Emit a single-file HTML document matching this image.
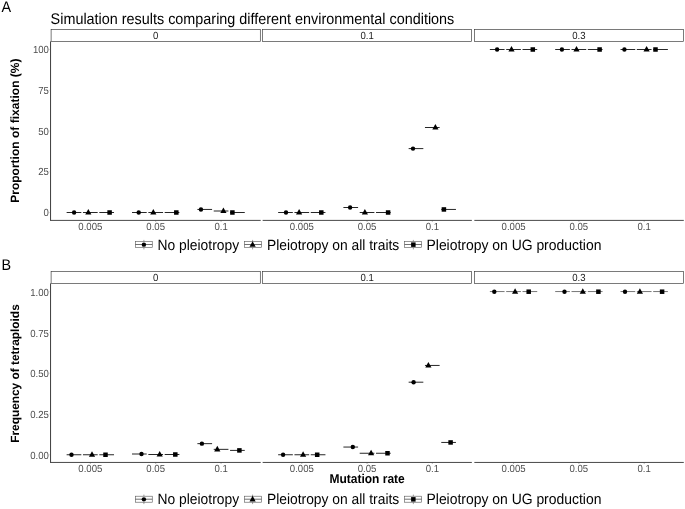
<!DOCTYPE html><html><head><meta charset="utf-8"><title>Simulation results</title><style>html,body{margin:0;padding:0;background:#fff}svg{display:block;font-family:"Liberation Sans", Arial, Helvetica, sans-serif;text-rendering:geometricPrecision}</style></head><body>
<svg width="685" height="509" viewBox="0 0 685 509">
<rect width="685" height="509" fill="#fff"/>
<text transform="translate(50.60,23.60) scale(1,1.07)" font-size="14.4" fill="#000">Simulation results comparing different environmental conditions</text>
<rect x="51.1" y="29.5" width="209.20" height="11.90" fill="#fff" stroke="#333" stroke-width="0.65"/>
<text transform="translate(155.70,38.75) scale(1,1.07)" text-anchor="middle" font-size="9.6" fill="#1a1a1a">0</text>
<line x1="50.6" y1="220.4" x2="260.7" y2="220.4" stroke="#333" stroke-width="0.9"/>
<text transform="translate(90.33,229.50) scale(1,1.07)" text-anchor="middle" font-size="9.6" fill="#4d4d4d">0.005</text>
<line x1="90.33" y1="220.80" x2="90.33" y2="221.50" stroke="#333" stroke-width="0.6"/>
<line x1="66.63" y1="212.50" x2="81.34" y2="212.50" stroke="#000" stroke-width="0.85"/>
<circle cx="74.10" cy="212.50" r="2.2" fill="#000"/>
<line x1="82.97" y1="212.50" x2="97.68" y2="212.50" stroke="#000" stroke-width="0.85"/>
<path d="M88.30 209.00 L91.40 214.60 L85.20 214.60 Z" fill="#000"/>
<line x1="99.31" y1="212.50" x2="114.02" y2="212.50" stroke="#000" stroke-width="0.85"/>
<rect x="107.35" y="210.25" width="4.5" height="4.5" fill="#000"/>
<text transform="translate(155.70,229.50) scale(1,1.07)" text-anchor="middle" font-size="9.6" fill="#4d4d4d">0.05</text>
<line x1="155.70" y1="220.80" x2="155.70" y2="221.50" stroke="#333" stroke-width="0.6"/>
<line x1="132.00" y1="212.50" x2="146.71" y2="212.50" stroke="#000" stroke-width="0.85"/>
<circle cx="138.70" cy="212.50" r="2.2" fill="#000"/>
<line x1="148.35" y1="212.50" x2="163.05" y2="212.50" stroke="#000" stroke-width="0.85"/>
<path d="M153.30 209.00 L156.40 214.60 L150.20 214.60 Z" fill="#000"/>
<line x1="164.69" y1="212.50" x2="179.40" y2="212.50" stroke="#000" stroke-width="0.85"/>
<rect x="174.05" y="210.25" width="4.5" height="4.5" fill="#000"/>
<text transform="translate(221.07,229.50) scale(1,1.07)" text-anchor="middle" font-size="9.6" fill="#4d4d4d">0.1</text>
<line x1="221.07" y1="220.80" x2="221.07" y2="221.50" stroke="#333" stroke-width="0.6"/>
<line x1="197.38" y1="209.45" x2="212.09" y2="209.45" stroke="#000" stroke-width="0.85"/>
<circle cx="200.95" cy="209.45" r="2.2" fill="#000"/>
<line x1="213.72" y1="211.00" x2="228.43" y2="211.00" stroke="#000" stroke-width="0.85"/>
<path d="M223.40 207.50 L226.50 213.10 L220.30 213.10 Z" fill="#000"/>
<line x1="230.06" y1="212.50" x2="244.77" y2="212.50" stroke="#000" stroke-width="0.85"/>
<rect x="230.15" y="210.25" width="4.5" height="4.5" fill="#000"/>
<rect x="262.65" y="29.5" width="208.80" height="11.90" fill="#fff" stroke="#333" stroke-width="0.65"/>
<text transform="translate(367.05,38.75) scale(1,1.07)" text-anchor="middle" font-size="9.6" fill="#1a1a1a">0.1</text>
<line x1="262.65" y1="220.4" x2="471.84999999999997" y2="220.4" stroke="#333" stroke-width="0.9"/>
<text transform="translate(301.80,229.50) scale(1,1.07)" text-anchor="middle" font-size="9.6" fill="#4d4d4d">0.005</text>
<line x1="301.80" y1="220.80" x2="301.80" y2="221.50" stroke="#333" stroke-width="0.6"/>
<line x1="278.15" y1="212.50" x2="292.83" y2="212.50" stroke="#000" stroke-width="0.85"/>
<circle cx="286.00" cy="212.50" r="2.2" fill="#000"/>
<line x1="294.46" y1="212.50" x2="309.14" y2="212.50" stroke="#000" stroke-width="0.85"/>
<path d="M299.10 209.00 L302.20 214.60 L296.00 214.60 Z" fill="#000"/>
<line x1="310.77" y1="212.50" x2="325.45" y2="212.50" stroke="#000" stroke-width="0.85"/>
<rect x="319.05" y="210.25" width="4.5" height="4.5" fill="#000"/>
<text transform="translate(367.05,229.50) scale(1,1.07)" text-anchor="middle" font-size="9.6" fill="#4d4d4d">0.05</text>
<line x1="367.05" y1="220.80" x2="367.05" y2="221.50" stroke="#333" stroke-width="0.6"/>
<line x1="343.40" y1="207.50" x2="358.08" y2="207.50" stroke="#000" stroke-width="0.85"/>
<circle cx="350.10" cy="207.50" r="2.2" fill="#000"/>
<line x1="359.71" y1="212.50" x2="374.39" y2="212.50" stroke="#000" stroke-width="0.85"/>
<path d="M364.90 209.00 L368.00 214.60 L361.80 214.60 Z" fill="#000"/>
<line x1="376.02" y1="212.50" x2="390.70" y2="212.50" stroke="#000" stroke-width="0.85"/>
<rect x="385.85" y="210.25" width="4.5" height="4.5" fill="#000"/>
<text transform="translate(432.30,229.50) scale(1,1.07)" text-anchor="middle" font-size="9.6" fill="#4d4d4d">0.1</text>
<line x1="432.30" y1="220.80" x2="432.30" y2="221.50" stroke="#333" stroke-width="0.6"/>
<line x1="408.65" y1="148.60" x2="423.33" y2="148.60" stroke="#000" stroke-width="0.85"/>
<circle cx="413.00" cy="148.60" r="2.2" fill="#000"/>
<line x1="424.96" y1="127.50" x2="439.64" y2="127.50" stroke="#000" stroke-width="0.85"/>
<path d="M435.40 124.00 L438.50 129.60 L432.30 129.60 Z" fill="#000"/>
<line x1="441.27" y1="209.45" x2="455.95" y2="209.45" stroke="#000" stroke-width="0.85"/>
<rect x="441.65" y="207.20" width="4.5" height="4.5" fill="#000"/>
<rect x="474.35" y="29.5" width="209.05" height="11.90" fill="#fff" stroke="#333" stroke-width="0.65"/>
<text transform="translate(578.88,38.75) scale(1,1.07)" text-anchor="middle" font-size="9.6" fill="#1a1a1a">0.3</text>
<line x1="474.35" y1="220.4" x2="683.8" y2="220.4" stroke="#333" stroke-width="0.9"/>
<text transform="translate(513.55,229.50) scale(1,1.07)" text-anchor="middle" font-size="9.6" fill="#4d4d4d">0.005</text>
<line x1="513.55" y1="220.80" x2="513.55" y2="221.50" stroke="#333" stroke-width="0.6"/>
<line x1="489.87" y1="49.50" x2="504.56" y2="49.50" stroke="#000" stroke-width="0.85"/>
<circle cx="497.10" cy="49.50" r="2.2" fill="#000"/>
<line x1="506.20" y1="49.50" x2="520.90" y2="49.50" stroke="#000" stroke-width="0.85"/>
<path d="M511.50 46.00 L514.60 51.60 L508.40 51.60 Z" fill="#000"/>
<line x1="522.53" y1="49.50" x2="537.23" y2="49.50" stroke="#000" stroke-width="0.85"/>
<rect x="530.55" y="47.25" width="4.5" height="4.5" fill="#000"/>
<text transform="translate(578.88,229.50) scale(1,1.07)" text-anchor="middle" font-size="9.6" fill="#4d4d4d">0.05</text>
<line x1="578.88" y1="220.80" x2="578.88" y2="221.50" stroke="#333" stroke-width="0.6"/>
<line x1="555.19" y1="49.50" x2="569.89" y2="49.50" stroke="#000" stroke-width="0.85"/>
<circle cx="561.90" cy="49.50" r="2.2" fill="#000"/>
<line x1="571.53" y1="49.50" x2="586.22" y2="49.50" stroke="#000" stroke-width="0.85"/>
<path d="M576.50 46.00 L579.60 51.60 L573.40 51.60 Z" fill="#000"/>
<line x1="587.86" y1="49.50" x2="602.56" y2="49.50" stroke="#000" stroke-width="0.85"/>
<rect x="597.35" y="47.25" width="4.5" height="4.5" fill="#000"/>
<text transform="translate(644.20,229.50) scale(1,1.07)" text-anchor="middle" font-size="9.6" fill="#4d4d4d">0.1</text>
<line x1="644.20" y1="220.80" x2="644.20" y2="221.50" stroke="#333" stroke-width="0.6"/>
<line x1="620.52" y1="49.50" x2="635.22" y2="49.50" stroke="#000" stroke-width="0.85"/>
<circle cx="624.40" cy="49.50" r="2.2" fill="#000"/>
<line x1="636.85" y1="49.50" x2="651.55" y2="49.50" stroke="#000" stroke-width="0.85"/>
<path d="M646.60 46.00 L649.70 51.60 L643.50 51.60 Z" fill="#000"/>
<line x1="653.19" y1="49.50" x2="667.88" y2="49.50" stroke="#000" stroke-width="0.85"/>
<rect x="653.25" y="47.25" width="4.5" height="4.5" fill="#000"/>
<line x1="50.55" y1="41.4" x2="50.55" y2="220.85" stroke="#333" stroke-width="0.95"/>
<text transform="translate(48.90,216.10) scale(1,1.07)" text-anchor="end" font-size="9.6" fill="#4d4d4d">0</text>
<line x1="49.6" y1="212.50" x2="50.2" y2="212.50" stroke="#666" stroke-width="0.5"/>
<text transform="translate(48.90,175.35) scale(1,1.07)" text-anchor="end" font-size="9.6" fill="#4d4d4d">25</text>
<line x1="49.6" y1="171.75" x2="50.2" y2="171.75" stroke="#666" stroke-width="0.5"/>
<text transform="translate(48.90,134.60) scale(1,1.07)" text-anchor="end" font-size="9.6" fill="#4d4d4d">50</text>
<line x1="49.6" y1="131.00" x2="50.2" y2="131.00" stroke="#666" stroke-width="0.5"/>
<text transform="translate(48.90,93.85) scale(1,1.07)" text-anchor="end" font-size="9.6" fill="#4d4d4d">75</text>
<line x1="49.6" y1="90.25" x2="50.2" y2="90.25" stroke="#666" stroke-width="0.5"/>
<text transform="translate(48.90,53.10) scale(1,1.07)" text-anchor="end" font-size="9.6" fill="#4d4d4d">100</text>
<line x1="49.6" y1="49.50" x2="50.2" y2="49.50" stroke="#666" stroke-width="0.5"/>
<text transform="translate(1.60,11.60) scale(1,1.07)" font-size="14.4" fill="#000">A</text>
<rect x="51.1" y="271.45" width="209.20" height="11.95" fill="#fff" stroke="#333" stroke-width="0.65"/>
<text transform="translate(155.70,281.02) scale(1,1.07)" text-anchor="middle" font-size="9.6" fill="#1a1a1a">0</text>
<line x1="50.6" y1="462.45" x2="260.7" y2="462.45" stroke="#333" stroke-width="0.9"/>
<text transform="translate(90.33,471.80) scale(1,1.07)" text-anchor="middle" font-size="9.6" fill="#4d4d4d">0.005</text>
<line x1="90.33" y1="462.85" x2="90.33" y2="463.55" stroke="#333" stroke-width="0.6"/>
<line x1="66.63" y1="454.75" x2="81.34" y2="454.75" stroke="#000" stroke-width="0.85"/>
<circle cx="71.50" cy="454.75" r="2.2" fill="#000"/>
<line x1="82.97" y1="454.75" x2="97.68" y2="454.75" stroke="#000" stroke-width="0.85"/>
<path d="M92.00 451.25 L95.10 456.85 L88.90 456.85 Z" fill="#000"/>
<line x1="99.31" y1="454.75" x2="114.02" y2="454.75" stroke="#000" stroke-width="0.85"/>
<rect x="103.25" y="452.50" width="4.5" height="4.5" fill="#000"/>
<text transform="translate(155.70,471.80) scale(1,1.07)" text-anchor="middle" font-size="9.6" fill="#4d4d4d">0.05</text>
<line x1="155.70" y1="462.85" x2="155.70" y2="463.55" stroke="#333" stroke-width="0.6"/>
<line x1="132.00" y1="454.00" x2="146.71" y2="454.00" stroke="#000" stroke-width="0.85"/>
<circle cx="141.50" cy="454.00" r="2.2" fill="#000"/>
<line x1="148.35" y1="454.50" x2="163.05" y2="454.50" stroke="#000" stroke-width="0.85"/>
<path d="M159.70 451.00 L162.80 456.60 L156.60 456.60 Z" fill="#000"/>
<line x1="164.69" y1="454.50" x2="179.40" y2="454.50" stroke="#000" stroke-width="0.85"/>
<rect x="173.05" y="452.25" width="4.5" height="4.5" fill="#000"/>
<text transform="translate(221.07,471.80) scale(1,1.07)" text-anchor="middle" font-size="9.6" fill="#4d4d4d">0.1</text>
<line x1="221.07" y1="462.85" x2="221.07" y2="463.55" stroke="#333" stroke-width="0.6"/>
<line x1="197.38" y1="443.65" x2="212.09" y2="443.65" stroke="#000" stroke-width="0.85"/>
<circle cx="201.90" cy="443.65" r="2.2" fill="#000"/>
<line x1="213.72" y1="449.35" x2="228.43" y2="449.35" stroke="#000" stroke-width="0.85"/>
<path d="M217.30 445.85 L220.40 451.45 L214.20 451.45 Z" fill="#000"/>
<line x1="230.06" y1="450.40" x2="244.77" y2="450.40" stroke="#000" stroke-width="0.85"/>
<rect x="237.15" y="448.15" width="4.5" height="4.5" fill="#000"/>
<rect x="262.65" y="271.45" width="208.80" height="11.95" fill="#fff" stroke="#333" stroke-width="0.65"/>
<text transform="translate(367.05,281.02) scale(1,1.07)" text-anchor="middle" font-size="9.6" fill="#1a1a1a">0.1</text>
<line x1="262.65" y1="462.45" x2="471.84999999999997" y2="462.45" stroke="#333" stroke-width="0.9"/>
<text transform="translate(301.80,471.80) scale(1,1.07)" text-anchor="middle" font-size="9.6" fill="#4d4d4d">0.005</text>
<line x1="301.80" y1="462.85" x2="301.80" y2="463.55" stroke="#333" stroke-width="0.6"/>
<line x1="278.15" y1="454.75" x2="292.83" y2="454.75" stroke="#000" stroke-width="0.85"/>
<circle cx="283.10" cy="454.75" r="2.2" fill="#000"/>
<line x1="294.46" y1="454.75" x2="309.14" y2="454.75" stroke="#000" stroke-width="0.85"/>
<path d="M303.10 451.25 L306.20 456.85 L300.00 456.85 Z" fill="#000"/>
<line x1="310.77" y1="454.75" x2="325.45" y2="454.75" stroke="#000" stroke-width="0.85"/>
<rect x="314.95" y="452.50" width="4.5" height="4.5" fill="#000"/>
<text transform="translate(367.05,471.80) scale(1,1.07)" text-anchor="middle" font-size="9.6" fill="#4d4d4d">0.05</text>
<line x1="367.05" y1="462.85" x2="367.05" y2="463.55" stroke="#333" stroke-width="0.6"/>
<line x1="343.40" y1="447.05" x2="358.08" y2="447.05" stroke="#000" stroke-width="0.85"/>
<circle cx="352.80" cy="447.05" r="2.2" fill="#000"/>
<line x1="359.71" y1="453.25" x2="374.39" y2="453.25" stroke="#000" stroke-width="0.85"/>
<path d="M371.10 449.75 L374.20 455.35 L368.00 455.35 Z" fill="#000"/>
<line x1="376.02" y1="453.25" x2="390.70" y2="453.25" stroke="#000" stroke-width="0.85"/>
<rect x="385.25" y="451.00" width="4.5" height="4.5" fill="#000"/>
<text transform="translate(432.30,471.80) scale(1,1.07)" text-anchor="middle" font-size="9.6" fill="#4d4d4d">0.1</text>
<line x1="432.30" y1="462.85" x2="432.30" y2="463.55" stroke="#333" stroke-width="0.6"/>
<line x1="408.65" y1="382.20" x2="423.33" y2="382.20" stroke="#000" stroke-width="0.85"/>
<circle cx="413.60" cy="382.20" r="2.2" fill="#000"/>
<line x1="424.96" y1="365.45" x2="439.64" y2="365.45" stroke="#000" stroke-width="0.85"/>
<path d="M428.40 361.95 L431.50 367.55 L425.30 367.55 Z" fill="#000"/>
<line x1="441.27" y1="442.45" x2="455.95" y2="442.45" stroke="#000" stroke-width="0.85"/>
<rect x="448.35" y="440.20" width="4.5" height="4.5" fill="#000"/>
<rect x="474.35" y="271.45" width="209.05" height="11.95" fill="#fff" stroke="#333" stroke-width="0.65"/>
<text transform="translate(578.88,281.02) scale(1,1.07)" text-anchor="middle" font-size="9.6" fill="#1a1a1a">0.3</text>
<line x1="474.35" y1="462.45" x2="683.8" y2="462.45" stroke="#333" stroke-width="0.9"/>
<text transform="translate(513.55,471.80) scale(1,1.07)" text-anchor="middle" font-size="9.6" fill="#4d4d4d">0.005</text>
<line x1="513.55" y1="462.85" x2="513.55" y2="463.55" stroke="#333" stroke-width="0.6"/>
<line x1="489.87" y1="291.55" x2="504.56" y2="291.55" stroke="#707070" stroke-width="0.95"/>
<circle cx="494.30" cy="291.70" r="2.2" fill="#000"/>
<line x1="506.20" y1="291.55" x2="520.90" y2="291.55" stroke="#707070" stroke-width="0.95"/>
<path d="M515.10 288.20 L518.20 293.80 L512.00 293.80 Z" fill="#000"/>
<line x1="522.53" y1="291.55" x2="537.23" y2="291.55" stroke="#707070" stroke-width="0.95"/>
<rect x="526.45" y="289.45" width="4.5" height="4.5" fill="#000"/>
<text transform="translate(578.88,471.80) scale(1,1.07)" text-anchor="middle" font-size="9.6" fill="#4d4d4d">0.05</text>
<line x1="578.88" y1="462.85" x2="578.88" y2="463.55" stroke="#333" stroke-width="0.6"/>
<line x1="555.19" y1="291.55" x2="569.89" y2="291.55" stroke="#707070" stroke-width="0.95"/>
<circle cx="564.50" cy="291.70" r="2.2" fill="#000"/>
<line x1="571.53" y1="291.55" x2="586.22" y2="291.55" stroke="#707070" stroke-width="0.95"/>
<path d="M582.80 288.20 L585.90 293.80 L579.70 293.80 Z" fill="#000"/>
<line x1="587.86" y1="291.55" x2="602.56" y2="291.55" stroke="#707070" stroke-width="0.95"/>
<rect x="596.15" y="289.45" width="4.5" height="4.5" fill="#000"/>
<text transform="translate(644.20,471.80) scale(1,1.07)" text-anchor="middle" font-size="9.6" fill="#4d4d4d">0.1</text>
<line x1="644.20" y1="462.85" x2="644.20" y2="463.55" stroke="#333" stroke-width="0.6"/>
<line x1="620.52" y1="291.55" x2="635.22" y2="291.55" stroke="#707070" stroke-width="0.95"/>
<circle cx="625.00" cy="291.70" r="2.2" fill="#000"/>
<line x1="636.85" y1="291.55" x2="651.55" y2="291.55" stroke="#707070" stroke-width="0.95"/>
<path d="M639.90 288.20 L643.00 293.80 L636.80 293.80 Z" fill="#000"/>
<line x1="653.19" y1="291.55" x2="667.88" y2="291.55" stroke="#707070" stroke-width="0.95"/>
<rect x="659.85" y="289.45" width="4.5" height="4.5" fill="#000"/>
<line x1="50.55" y1="283.4" x2="50.55" y2="462.9" stroke="#333" stroke-width="0.95"/>
<text transform="translate(48.90,458.85) scale(1,1.07)" text-anchor="end" font-size="9.6" fill="#4d4d4d">0.00</text>
<line x1="49.6" y1="454.80" x2="50.2" y2="454.80" stroke="#666" stroke-width="0.5"/>
<text transform="translate(48.90,418.07) scale(1,1.07)" text-anchor="end" font-size="9.6" fill="#4d4d4d">0.25</text>
<line x1="49.6" y1="414.02" x2="50.2" y2="414.02" stroke="#666" stroke-width="0.5"/>
<text transform="translate(48.90,377.30) scale(1,1.07)" text-anchor="end" font-size="9.6" fill="#4d4d4d">0.50</text>
<line x1="49.6" y1="373.25" x2="50.2" y2="373.25" stroke="#666" stroke-width="0.5"/>
<text transform="translate(48.90,336.53) scale(1,1.07)" text-anchor="end" font-size="9.6" fill="#4d4d4d">0.75</text>
<line x1="49.6" y1="332.48" x2="50.2" y2="332.48" stroke="#666" stroke-width="0.5"/>
<text transform="translate(48.90,295.75) scale(1,1.07)" text-anchor="end" font-size="9.6" fill="#4d4d4d">1.00</text>
<line x1="49.6" y1="291.70" x2="50.2" y2="291.70" stroke="#666" stroke-width="0.5"/>
<text transform="translate(1.60,269.60) scale(1,1.07)" font-size="14.4" fill="#000">B</text>
<text transform="translate(19.10,130.65) rotate(-90)" text-anchor="middle" font-size="12.04" font-weight="bold" fill="#000">Proportion of fixation (%)</text>
<text transform="translate(19.10,373.55) rotate(-90)" text-anchor="middle" font-size="11.88" font-weight="bold" fill="#000">Frequency of tetraploids</text>
<text transform="translate(367.10,483.30) scale(1,1.07)" text-anchor="middle" font-size="12" font-weight="bold" fill="#000">Mutation rate</text>
<line x1="143.90" y1="239.90" x2="143.90" y2="249.40" stroke="#888" stroke-width="0.8"/>
<rect x="135.35" y="241.50" width="16.9" height="6.0" fill="#fff" stroke="#555" stroke-width="0.6"/>
<line x1="135.35" y1="244.50" x2="152.25" y2="244.50" stroke="#333" stroke-width="0.7"/>
<circle cx="143.90" cy="244.65" r="2.2" fill="#000"/>
<text transform="translate(157.50,249.60) scale(1,1.07)" font-size="13.85" fill="#000">No pleiotropy</text>
<line x1="252.60" y1="239.90" x2="252.60" y2="249.40" stroke="#888" stroke-width="0.8"/>
<rect x="244.50" y="241.50" width="16.9" height="6.0" fill="#fff" stroke="#555" stroke-width="0.6"/>
<line x1="244.50" y1="244.50" x2="261.40" y2="244.50" stroke="#333" stroke-width="0.7"/>
<path d="M252.60 241.15 L255.70 246.75 L249.50 246.75 Z" fill="#000"/>
<text transform="translate(266.90,249.60) scale(1,1.07)" font-size="13.85" fill="#000">Pleiotropy on all traits</text>
<line x1="413.35" y1="239.90" x2="413.35" y2="249.40" stroke="#888" stroke-width="0.8"/>
<rect x="404.60" y="241.50" width="16.9" height="6.0" fill="#fff" stroke="#555" stroke-width="0.6"/>
<line x1="404.60" y1="244.50" x2="421.50" y2="244.50" stroke="#333" stroke-width="0.7"/>
<rect x="411.10" y="242.40" width="4.5" height="4.5" fill="#000"/>
<text transform="translate(426.50,249.60) scale(1,1.07)" font-size="13.93" fill="#000">Pleiotropy on UG production</text>
<line x1="143.90" y1="494.60" x2="143.90" y2="504.10" stroke="#888" stroke-width="0.8"/>
<rect x="135.35" y="496.20" width="16.9" height="6.0" fill="#fff" stroke="#555" stroke-width="0.6"/>
<line x1="135.35" y1="499.20" x2="152.25" y2="499.20" stroke="#333" stroke-width="0.7"/>
<circle cx="143.90" cy="499.35" r="2.2" fill="#000"/>
<text transform="translate(157.50,504.00) scale(1,1.07)" font-size="13.85" fill="#000">No pleiotropy</text>
<line x1="252.60" y1="494.60" x2="252.60" y2="504.10" stroke="#888" stroke-width="0.8"/>
<rect x="244.50" y="496.20" width="16.9" height="6.0" fill="#fff" stroke="#555" stroke-width="0.6"/>
<line x1="244.50" y1="499.20" x2="261.40" y2="499.20" stroke="#333" stroke-width="0.7"/>
<path d="M252.60 495.85 L255.70 501.45 L249.50 501.45 Z" fill="#000"/>
<text transform="translate(266.90,504.00) scale(1,1.07)" font-size="13.85" fill="#000">Pleiotropy on all traits</text>
<line x1="413.35" y1="494.60" x2="413.35" y2="504.10" stroke="#888" stroke-width="0.8"/>
<rect x="404.60" y="496.20" width="16.9" height="6.0" fill="#fff" stroke="#555" stroke-width="0.6"/>
<line x1="404.60" y1="499.20" x2="421.50" y2="499.20" stroke="#333" stroke-width="0.7"/>
<rect x="411.10" y="497.10" width="4.5" height="4.5" fill="#000"/>
<text transform="translate(426.50,504.00) scale(1,1.07)" font-size="13.93" fill="#000">Pleiotropy on UG production</text>
</svg></body></html>
